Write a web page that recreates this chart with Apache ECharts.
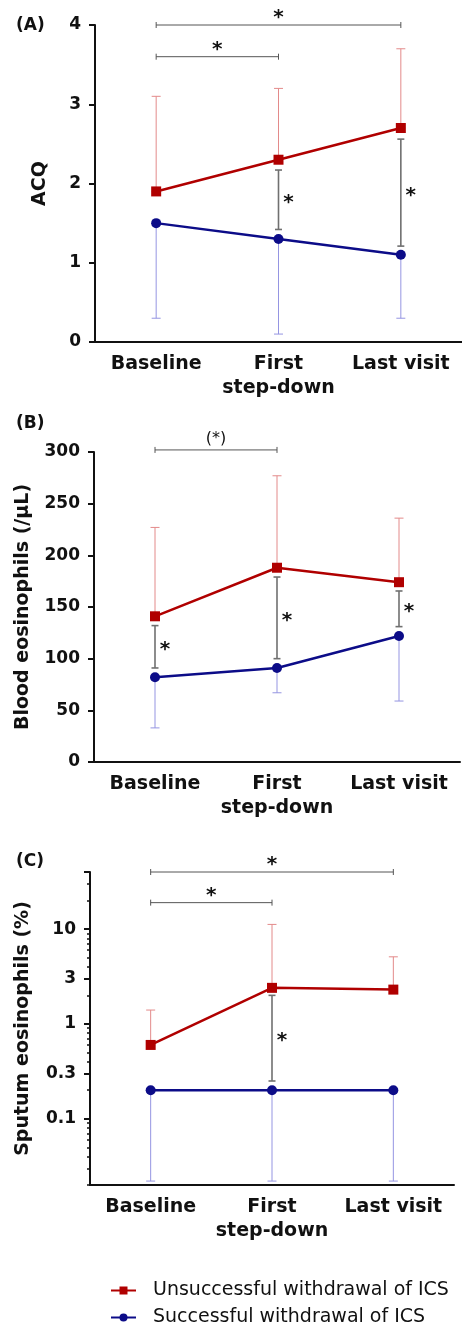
<!DOCTYPE html>
<html>
<head>
<meta charset="utf-8">
<script src="https://cdn.jsdelivr.net/npm/echarts@6/dist/echarts.min.js"></script>
<style>
  html, body { margin: 0; padding: 0; background: #fff; }
  #chart { width: 462px; height: 1325px; }
</style>
</head>
<body>
<div id="chart"></div>
<script>
const categories = ["Baseline", "First\nstep-down", "Last visit"];
const seriesNames = ["Unsuccessful withdrawal of ICS", "Successful withdrawal of ICS"];

// (A) ACQ
const acqUnsuccessful = [1.9, 2.3, 2.7];
const acqUnsuccessfulUpper = [3.1, 3.2, 3.7];
const acqSuccessful = [1.5, 1.3, 1.1];
const acqSuccessfulLower = [0.3, 0.1, 0.3];
const acqBetween = [[1, 2.17, 1.42], [2, 2.56, 1.21]]; // [category, top, bottom]
const acqBrackets = [[0, 4.0, 2], [0, 3.6, 1]]; // [from, y, to]
const acqBracketLabels = ["*", "*"];

// (B) blood eosinophils
const bloodUnsuccessful = [141, 188, 174];
const bloodUnsuccessfulUpper = [227, 277, 236];
const bloodSuccessful = [82, 91, 122];
const bloodSuccessfulLower = [33, 67, 59];
const bloodBetween = [[0, 132, 91], [1, 179, 100], [2, 165.5, 131]];
const bloodBrackets = [[0, 302, 1]];
const bloodBracketLabels = ["(*)"];

// (C) sputum eosinophils, log scale
const sputumUnsuccessful = [0.6, 2.4, 2.3];
const sputumUnsuccessfulUpper = [1.4, 11.2, 5.1];
const sputumSuccessful = [0.2, 0.2, 0.2];
const sputumSuccessfulLower = [0.022, 0.022, 0.022];
const sputumBetween = [[1, 2.0, 0.25]];
const sputumBrackets = [[0, 40, 2], [0, 19, 1]];
const sputumBracketLabels = ["*", "*"];
const sputumTickLabels = [0.1, 0.3, 1, 3, 10];
const sputumMajorTicks = [0.1, 0.3, 1, 3, 10, 40];
const sputumMinorTicks = [0.02, 0.03, 0.04, 0.05, 0.06, 0.07, 0.08, 0.09,
  0.2, 0.4, 0.5, 0.6, 0.7, 0.8, 0.9, 2, 4, 5, 6, 7, 8, 9, 20, 30];

const FONT = '"DejaVu Sans", sans-serif';
const INK = "#111";
const RED = "#b00000";
const BLUE = "#0c0c88";
const RED_LIGHT = "#e38a8a";
const BLUE_LIGHT = "#9595e2";
const GREY = "#707070";

function errorBar(color, capHalf, width) {
  return function (params, api) {
    const x = api.value(0);
    const a = api.coord([x, api.value(1)]);
    const b = api.coord([x, api.value(2)]);
    const style = { stroke: color, lineWidth: width };
    return {
      type: "group",
      children: [
        { type: "line", shape: { x1: a[0], y1: a[1], x2: b[0], y2: b[1] }, style },
        { type: "line", shape: { x1: a[0] - capHalf, y1: a[1], x2: a[0] + capHalf, y2: a[1] }, style },
        { type: "line", shape: { x1: b[0] - capHalf, y1: b[1], x2: b[0] + capHalf, y2: b[1] }, style },
      ],
    };
  };
}

// star next to the grey between-group bar
function betweenBar(params, api) {
  const g = errorBar(GREY, 3.5, 1.6)(params, api);
  const a = api.coord([api.value(0), api.value(1)]);
  const b = api.coord([api.value(0), api.value(2)]);
  g.children.push({
    type: "text",
    x: a[0] + 10,
    y: (a[1] + b[1]) / 2 + 3,
    style: { text: "*", font: "bold 20px " + FONT, fill: INK, align: "center", verticalAlign: "middle" },
  });
  return g;
}

function bracket(labels) {
  return function (params, api) {
    const a = api.coord([api.value(0), api.value(1)]);
    const b = api.coord([api.value(2), api.value(1)]);
    const style = { stroke: "#555", lineWidth: 1 };
    const label = labels[params.dataIndex];
    return {
      type: "group",
      children: [
        { type: "line", shape: { x1: a[0], y1: a[1], x2: b[0], y2: b[1] }, style },
        { type: "line", shape: { x1: a[0], y1: a[1] - 3, x2: a[0], y2: a[1] + 3 }, style },
        { type: "line", shape: { x1: b[0], y1: b[1] - 3, x2: b[0], y2: b[1] + 3 }, style },
        {
          type: "text",
          x: (a[0] + b[0]) / 2,
          y: a[1] - (label === "*" ? 7 : 11),
          style: {
            text: label,
            font: label === "*" ? "bold 20px " + FONT : "16px " + FONT,
            fill: INK, align: "center", verticalAlign: "middle",
          },
        },
      ],
    };
  };
}

function xAxisFor(gridIndex) {
  return {
    type: "category", gridIndex, data: categories,
    axisLine: { lineStyle: { color: INK, width: 2 } },
    axisTick: { alignWithLabel: true, length: 6, lineStyle: { color: INK, width: 2 } },
    axisLabel: { interval: 0, color: INK, fontFamily: FONT, fontWeight: "bold", fontSize: 19, lineHeight: 24, margin: 10 },
    splitLine: { show: false },
  };
}

const yBase = {
  axisLine: { show: true, lineStyle: { color: INK, width: 2 } },
  axisTick: { show: true, length: 6, lineStyle: { color: INK, width: 2 } },
  axisLabel: { color: INK, fontFamily: FONT, fontWeight: "bold", fontSize: 17, margin: 14 },
  splitLine: { show: false },
  nameLocation: "middle",
  nameRotate: 90,
  nameTextStyle: { color: INK, fontFamily: FONT, fontWeight: "bold", fontSize: 19 },
};

function panelSeries(xi, yi, mean1, upper1, mean2, lower2, between, brackets, labels) {
  return [
    {
      type: "custom", xAxisIndex: xi, yAxisIndex: yi, z: 1, clip: false,
      renderItem: errorBar(RED_LIGHT, 4.5, 1),
      data: mean1.map((v, i) => [i, v, upper1[i]]),
    },
    {
      type: "custom", xAxisIndex: xi, yAxisIndex: yi, z: 1, clip: false,
      renderItem: errorBar(BLUE_LIGHT, 4.5, 1),
      data: mean2.map((v, i) => [i, v, lower2[i]]),
    },
    {
      type: "custom", xAxisIndex: xi, yAxisIndex: yi, z: 2, clip: false,
      renderItem: betweenBar, data: between,
    },
    {
      type: "custom", xAxisIndex: xi, yAxisIndex: yi, z: 2, clip: false,
      renderItem: bracket(labels), data: brackets,
    },
    {
      name: seriesNames[0], type: "line", xAxisIndex: xi, yAxisIndex: yi, z: 3,
      data: mean1, symbol: "rect", symbolSize: 10, showAllSymbol: true,
      itemStyle: { color: RED }, lineStyle: { color: RED, width: 2.5 },
    },
    {
      name: seriesNames[1], type: "line", xAxisIndex: xi, yAxisIndex: yi, z: 3,
      data: mean2, symbol: "circle", symbolSize: 10, showAllSymbol: true,
      itemStyle: { color: BLUE }, lineStyle: { color: BLUE, width: 2.5 },
    },
  ];
}

const options = {
  animation: false,
  backgroundColor: "#fff",
  grid: [
    { left: 95, top: 25, width: 372, height: 317 },
    { left: 94, top: 452, width: 366, height: 310 },
    { left: 90, top: 872, width: 364, height: 313 },
  ],
  xAxis: [xAxisFor(0), xAxisFor(1), xAxisFor(2)],
  yAxis: [
    Object.assign({}, yBase, { gridIndex: 0, type: "value", min: 0, max: 4, interval: 1, name: "ACQ", nameGap: 45 }),
    Object.assign({}, yBase, { gridIndex: 1, type: "value", min: 0, max: 300, interval: 50, name: "Blood eosinophils (/µL)", nameGap: 61 }),
    Object.assign({}, yBase, {
      gridIndex: 2, type: "log", logBase: 10, min: 0.02, max: 40,
      name: "Sputum eosinophils (%)", nameGap: 57,
      axisLabel: Object.assign({}, yBase.axisLabel, { customValues: sputumTickLabels }),
      axisTick: Object.assign({}, yBase.axisTick, { customValues: sputumMajorTicks }),
    }),
    {
      gridIndex: 2, type: "log", logBase: 10, min: 0.02, max: 40, position: "left",
      axisLine: { show: false },
      axisLabel: { show: false },
      axisTick: { show: true, length: 3, customValues: sputumMinorTicks, lineStyle: { color: INK, width: 1.5 } },
      splitLine: { show: false },
    },
  ],
  legend: {
    orient: "vertical", left: 110, top: 1281, padding: 0, itemGap: 8,
    height: 60,
    itemWidth: 25, itemHeight: 10,
    data: seriesNames,
    textStyle: { color: INK, fontFamily: FONT, fontSize: 19, padding: [0, 0, 0, 12] },
  },
  graphic: [
    { type: "text", x: 16, y: 26, style: { text: "(A)", font: "bold 17px " + FONT, fill: INK, verticalAlign: "middle" } },
    { type: "text", x: 16, y: 424, style: { text: "(B)", font: "bold 17px " + FONT, fill: INK, verticalAlign: "middle" } },
    { type: "text", x: 16, y: 862, style: { text: "(C)", font: "bold 17px " + FONT, fill: INK, verticalAlign: "middle" } },
  ],
  series: [].concat(
    panelSeries(0, 0, acqUnsuccessful, acqUnsuccessfulUpper, acqSuccessful, acqSuccessfulLower, acqBetween, acqBrackets, acqBracketLabels),
    panelSeries(1, 1, bloodUnsuccessful, bloodUnsuccessfulUpper, bloodSuccessful, bloodSuccessfulLower, bloodBetween, bloodBrackets, bloodBracketLabels),
    panelSeries(2, 2, sputumUnsuccessful, sputumUnsuccessfulUpper, sputumSuccessful, sputumSuccessfulLower, sputumBetween, sputumBrackets, sputumBracketLabels)
  ),
};

const eChart = echarts.init(document.getElementById("chart"), null, { renderer: "canvas" });
eChart.setOption(options);
</script>
</body>
</html>
